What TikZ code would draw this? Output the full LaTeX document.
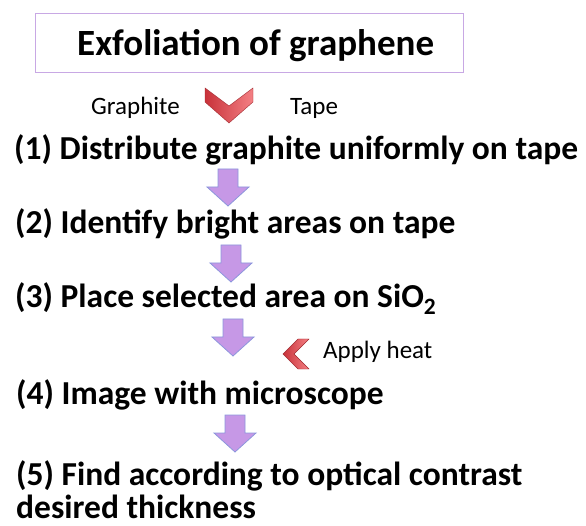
\documentclass[tikz,border=0pt]{standalone}
\usepackage{fontspec}
\setmainfont{Carlito}
\definecolor{boxedge}{RGB}{200,168,228}
\definecolor{arrowfill}{RGB}{198,152,230}
\definecolor{arrowedge}{RGB}{140,150,220}
\definecolor{chevdark}{RGB}{200,50,58}
\definecolor{chevlight}{RGB}{244,128,132}
\tikzset{
  titletext/.style={anchor=base west, inner sep=0pt, font=\fontsize{37}{44}\selectfont\bfseries},
  steptext/.style={anchor=base west, inner sep=0pt, font=\fontsize{33.5}{35}\selectfont\bfseries},
  labeltext/.style={anchor=base west, inner sep=0pt, font=\fontsize{25}{30}\selectfont},
  downarrow/.pic={
    \filldraw[fill=arrowfill, draw=arrowedge, line width=0.8pt, line join=miter]
      (-10,0) -- (10,0) -- (10,18) -- (21,18) -- (0,37) -- (-21,18) -- (-10,18) -- cycle;
  },
  chevron/.style={left color=chevdark, right color=chevlight, draw=chevdark!80!black, line width=0.4pt}
}
\begin{document}
\begin{tikzpicture}[x=1pt,y=-1pt]
\useasboundingbox (0,0) rectangle (586,526);

% title box
\node[draw=boxedge, line width=1pt, minimum width=428pt, minimum height=59pt, anchor=north west] (titlebox) at (35,13) {};
\node[titletext] (title) at (77,56) {Exfoliation of graphene};

% graphite + tape merge
\node[labeltext] (graphite) at (91,115) {Graphite};
\node[labeltext] (tape) at (290,115) {Tape};
\path[chevron] (205,88) -- (229,106) -- (253,88) -- (253,102) -- (229,123) -- (205,102) -- cycle;

% steps
\node[steptext] (s1) at (14,160) {(1) Distribute graphite uniformly on tape};
\node[steptext] (s2) at (15,234) {(2) Identify bright areas on tape};
\node[steptext] (s3) at (15,308) {(3) Place selected area on SiO\textsubscript{2}};
\node[steptext] (s4) at (16,404) {(4) Image with microscope};
\node[steptext] (s5) at (16,485) {(5) Find according to optical contrast};
\node[steptext] (s5b) at (16,518) {desired thickness};

% arrows between steps
\pic at (228,169) {downarrow};
\pic at (231,245) {downarrow};
\pic at (233,319) {downarrow};
\pic at (235,415) {downarrow};

% heat input
\path[chevron] (283,354) -- (298,339) -- (309,339) -- (294,354) -- (309,369) -- (298,369) -- cycle;
\node[labeltext] (heat) at (323,359) {Apply heat};
\end{tikzpicture}
\end{document}
